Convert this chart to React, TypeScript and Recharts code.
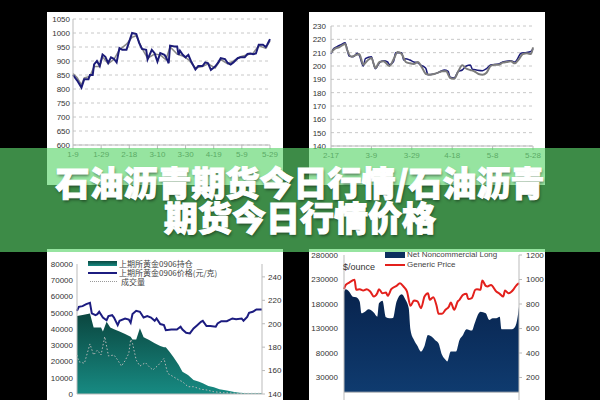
import {
  Area,
  CartesianGrid,
  ComposedChart,
  Line,
  ReferenceLine,
  XAxis,
  YAxis,
} from "recharts";

// Top-left: daily price, Jan 9 .. May 29 (x = days since Jan 9)
const tlTickDays = [0, 20, 40, 60, 80, 100, 120, 140];
const tlTickLabels = ["1-9", "1-29", "2-18", "3-10", "3-30", "4-19", "5-9", "5-29"];
const tlYTicks = [600, 650, 700, 750, 800, 850, 900, 950, 1000, 1050];
const tlDays = [
  0, 3, 6, 8, 11, 12, 14, 15, 17, 19, 21, 23, 25, 27, 29, 31, 33, 35, 38, 40,
  42, 45, 47, 49, 52, 53, 56, 58, 60, 62, 65, 66, 68, 69, 72, 74, 75, 76, 78, 80,
  82, 84, 87, 89, 92, 94, 96, 98, 101, 103, 105, 108, 110, 112, 114, 117, 119, 122, 124, 126,
  128, 130, 132, 135, 137, 138, 140,
];
const tlNavy = [
  850, 830, 805, 835, 835, 850, 850, 888, 900, 882, 923, 915, 893, 913, 908, 895, 946, 940, 940, 970,
  1000, 996, 965, 943, 940, 906, 940, 928, 898, 928, 922, 915, 892, 955, 952, 952, 922, 937, 922, 913,
  922, 898, 870, 882, 882, 895, 892, 868, 880, 893, 910, 907, 893, 887, 895, 910, 913, 913, 925, 927,
  924, 927, 958, 958, 950, 958, 978,
];
const tlGrayDays = [
  0, 3, 6, 8, 12, 15, 19, 21, 25, 29, 33, 38, 42, 45, 49, 53, 58, 62, 66, 69,
  74, 78, 82, 87, 92, 96, 101, 105, 110, 114, 119, 124, 128, 132, 137, 140,
];
const tlGray = [
  855, 840, 815, 840, 845, 880, 880, 915, 890, 905, 940, 960, 985, 990, 945, 910, 925, 922, 905, 950,
  925, 918, 905, 875, 880, 890, 875, 905, 890, 900, 915, 922, 928, 955, 945, 972,
];

// Top-right: Feb 17 .. May 28 (x = days since Feb 17)
const trTickDays = [0, 20, 40, 60, 80, 100];
const trTickLabels = ["2-17", "3-9", "3-29", "4-18", "5-8", "5-28"];
const trYTicks = [140, 150, 160, 170, 180, 190, 200, 210, 220, 230];
const trDays = [
  0, 1, 3, 5, 7, 8, 9, 11, 13, 14, 16, 17, 20, 21, 22, 24, 26, 28, 29, 31,
  32, 35, 36, 37, 39, 41, 43, 44, 46, 47, 48, 51, 53, 56, 58, 59, 61, 63, 65, 67,
  69, 70, 72, 75, 77, 79, 83, 85, 89, 91, 92, 94, 96, 99, 100,
];
const trNavy = [
  209, 212.5, 214.5, 216, 217.5, 212.5, 207.5, 207, 209.5, 208, 200, 205.5, 207, 202, 198, 202.5, 204, 203, 201, 203.5,
  210, 210, 204.5, 205.5, 204.5, 203, 202.5, 201, 199.5, 198, 193.5, 194, 195, 197, 196, 191.5, 191, 196, 197, 200,
  200.7, 197.5, 197, 196.5, 198, 200.7, 201.5, 203, 204, 203, 204.5, 209.5, 210, 211, 213,
];
const trGrayDays = [
  0, 2, 4, 7, 8, 10, 12, 14, 16, 18, 20, 22, 24, 26, 28, 29, 31, 33, 35, 37,
  39, 41, 43, 45, 47, 49, 51, 53, 55, 57, 59, 61, 63, 65, 67, 69, 71, 73, 75, 77,
  79, 81, 83, 85, 87, 89, 91, 93, 95, 97, 99, 100,
];
const trGray = [
  210, 213, 214, 216.5, 212, 207, 208, 209, 201, 204, 206, 198.5, 203, 203.5, 201, 200, 205, 210.5, 209, 203,
  202, 201.5, 203, 199, 194, 193.5, 194, 195, 196, 196, 191, 190.5, 196, 200.5, 198, 197, 196, 194, 193.5, 195,
  200, 201, 201, 202.5, 203, 203.5, 202, 205, 209, 209.5, 209, 214,
];

// Bottom-left: SHFE gold 0906 open interest / price / volume
const blLeftTicks = [0, 10000, 20000, 30000, 40000, 50000, 60000, 70000, 80000];
const blRightTicks = [140, 160, 180, 200, 220, 240];
const blHoldDays = [
  0, 3, 7, 9, 11, 13, 14, 16, 18, 20, 23, 26, 29, 30, 32, 34, 36, 39, 42, 45,
  47, 48, 50, 52, 55, 57, 60, 63, 66, 68, 71, 74, 77, 81, 85, 88, 92, 95, 100,
];
const blHold = [
  48000, 48600, 49600, 41000, 41000, 41000, 38400, 44500, 41000, 39800, 38400, 36900, 35300, 33600, 33600, 40400, 34900, 33200, 31200, 29500,
  28700, 28700, 26000, 23000, 17800, 13700, 11700, 8600, 7600, 6600, 4900, 4100, 2900, 2100, 1200, 800, 400, 400, 400,
];
const blPriceDays = [
  0, 1, 3, 5, 7, 8, 10, 11, 12, 14, 16, 17, 19, 20, 22, 23, 26, 28, 29, 30,
  32, 34, 36, 38, 40, 42, 43, 45, 47, 48, 51, 54, 56, 57, 59, 61, 63, 65, 67, 68,
  70, 72, 75, 76, 78, 81, 84, 86, 89, 90, 92, 93, 95, 97, 100,
];
const blPrice = [
  211, 214.4, 215, 216.7, 217.8, 208.8, 207.3, 208.2, 210.2, 205.3, 203, 206.5, 207.3, 205.3, 198.8, 202.5, 204.5, 203.6, 200.8, 208.2,
  211, 210.2, 205.3, 206.5, 205.3, 202.5, 204.5, 199.7, 198.8, 194.5, 195.1, 195.1, 197.4, 195.1, 192.3, 191.7, 196, 198.8, 201.6, 202.5,
  198, 198, 197.4, 200.2, 202.2, 202.2, 204.5, 203.9, 204.5, 202.5, 205.9, 209.3, 210.2, 212.2, 212.2,
];
const blVolDays = [
  0, 1, 4, 7, 9, 11, 13, 15, 17, 20, 22, 24, 26, 28, 29, 30, 32, 34, 37, 39,
  41, 44, 47, 49, 52, 55, 57, 60, 63, 67, 70, 74, 79, 88, 100,
];
const blVol = [
  24000, 19900, 18900, 30800, 24000, 27000, 24000, 35300, 23400, 24000, 20900, 17200, 20500, 25000, 33600, 31200, 20900, 17200, 19300, 16800,
  14800, 17800, 21900, 12700, 10700, 8600, 7600, 4500, 4500, 2900, 2500, 1400, 800, 400, 400,
];

// Bottom-right: COMEX gold net noncommercial long vs generic price
const brLeftTicks = [-20000, 30000, 80000, 130000, 180000, 230000, 280000];
const brRightTicks = [0, 200, 400, 600, 800, 1000, 1200];
const brNetDays = [
  0, 1, 3, 5, 7, 9, 10, 12, 14, 17, 19, 20, 22, 24, 26, 28, 30, 33, 35, 37,
  38, 40, 42, 44, 46, 48, 50, 52, 54, 56, 58, 59, 61, 64, 66, 68, 70, 73, 75, 77,
  78, 81, 83, 85, 87, 89, 90, 93, 96, 98, 99, 100,
];
const brNet = [
  205200, 210000, 205000, 195000, 193600, 184800, 161000, 164400, 169200, 162400, 154200, 181400, 186800, 152900, 150900, 151500, 184800, 199800, 189600, 171200,
  127100, 106700, 94500, 83000, 94500, 116900, 113500, 106700, 100000, 76200, 66000, 62600, 83000, 83000, 106700, 116900, 128500, 125700, 144000, 161000,
  164400, 161000, 147500, 150900, 150900, 154200, 128500, 128500, 128500, 135200, 148800, 174600,
];
const brPriceDays = [
  0, 1, 3, 6, 7, 9, 11, 13, 15, 17, 19, 20, 22, 24, 25, 27, 30, 32, 34, 36,
  38, 40, 42, 44, 46, 48, 49, 51, 53, 54, 56, 58, 60, 61, 63, 65, 66, 68, 70, 71,
  73, 75, 76, 78, 79, 81, 82, 84, 87, 89, 91, 92, 94, 97, 98, 100,
];
const brPrice = [
  921, 956, 975, 997, 916, 921, 910, 921, 902, 861, 888, 921, 888, 894, 867, 921, 948, 970, 943, 902,
  785, 829, 821, 766, 861, 888, 834, 856, 780, 720, 720, 753, 780, 812, 753, 821, 834, 875, 883, 840,
  848, 916, 921, 916, 992, 948, 943, 956, 902, 883, 861, 910, 888, 921, 943, 970,
];

const TITLE_LINES = ["石油沥青期货今日行情/石油沥青", "期货今日行情价格"];

const SANS = "'Liberation Sans', Arial, sans-serif";
const TICK = { fontSize: 8, fill: "#333", fontFamily: SANS };
const TICK_X = { fontSize: 8, fill: "#555", fontFamily: SANS };
const CJK = "'Noto Sans CJK SC', sans-serif";

function pts(days: number[], values: number[]) {
  return days.map((t, i) => ({ t, v: values[i] }));
}

function Panel({
  left,
  top,
  width,
  height,
  children,
}: {
  left: number;
  top: number;
  width: number;
  height: number;
  children: React.ReactNode;
}) {
  return (
    <div
      style={{
        position: "absolute",
        left,
        top,
        width,
        height,
        background: "#fff",
        overflow: "hidden",
      }}
    >
      {children}
    </div>
  );
}

function TopLeft() {
  return (
    <ComposedChart width={236} height={173} margin={{ top: 7, right: 13, bottom: 20, left: 0 }}>
      <CartesianGrid stroke="#c8c8c8" strokeDasharray="3 3" vertical={false} />
      <XAxis
        type="number"
        dataKey="t"
        domain={[0, 140]}
        ticks={tlTickDays}
        interval={0}
        tickFormatter={(v: number) => tlTickLabels[tlTickDays.indexOf(v)]}
        height={20}
        tickSize={4}
        stroke="#bbb"
        tick={TICK_X}
      />
      <YAxis
        type="number"
        domain={[600, 1050]}
        ticks={tlYTicks}
        interval={0}
        width={26}
        tickSize={0}
        tickMargin={3}
        stroke="#bbb"
        tick={TICK}
      />
      <Line data={pts(tlGrayDays, tlGray)} dataKey="v" type="linear" stroke="#8a8a8a" strokeWidth={1.5} dot={false} isAnimationActive={false} />
      <Line data={pts(tlDays, tlNavy)} dataKey="v" type="linear" stroke="#1c1c78" strokeWidth={2} dot={false} isAnimationActive={false} />
    </ComposedChart>
  );
}

function TopRight() {
  return (
    <ComposedChart width={236} height={173} margin={{ top: 14, right: 12, bottom: 19, left: 0 }}>
      <CartesianGrid stroke="#c8c8c8" strokeDasharray="3 3" vertical={false} />
      <XAxis
        type="number"
        dataKey="t"
        domain={[0, 100]}
        ticks={trTickDays}
        interval={0}
        tickFormatter={(v: number) => trTickLabels[trTickDays.indexOf(v)]}
        height={20}
        tickSize={4}
        stroke="#bbb"
        tick={TICK_X}
      />
      <YAxis
        type="number"
        domain={[140, 230]}
        ticks={trYTicks}
        interval={0}
        width={22}
        tickSize={0}
        tickMargin={5}
        stroke="#bbb"
        tick={TICK}
      />
      <Line data={pts(trDays, trNavy)} dataKey="v" type="monotone" stroke="#1c1c78" strokeWidth={1.5} dot={false} isAnimationActive={false} />
      <Line data={pts(trGrayDays, trGray)} dataKey="v" type="monotone" stroke="#7c7c7c" strokeWidth={2} dot={false} isAnimationActive={false} />
    </ComposedChart>
  );
}

function BottomLeft() {
  return (
    <div style={{ position: "relative" }}>
      <ComposedChart width={236} height={160} margin={{ top: 15, right: 0, bottom: 15, left: 0 }}>
        <defs>
          <linearGradient id="blFill" x1="0" y1="0" x2="0" y2="1">
            <stop offset="0%" stopColor="#0b463f" />
            <stop offset="100%" stopColor="#178a82" />
          </linearGradient>
        </defs>
        <XAxis type="number" dataKey="t" domain={[0, 100]} hide />
        <YAxis
          yAxisId="l"
          type="number"
          domain={[0, 80000]}
          ticks={blLeftTicks}
          interval={0}
          width={30}
          tickSize={0}
          tickMargin={4}
          stroke="#bbb"
          tick={TICK}
        />
        <YAxis
          yAxisId="r"
          orientation="right"
          type="number"
          domain={[140, 251]}
          ticks={blRightTicks}
          interval={0}
          width={21}
          tickSize={3}
          tickMargin={3}
          stroke="#bbb"
          tick={TICK}
        />
        <ReferenceLine yAxisId="l" y={0} stroke="#bbb" />
        <Area yAxisId="l" data={pts(blHoldDays, blHold)} dataKey="v" type="linear" stroke="none" fill="url(#blFill)" fillOpacity={1} isAnimationActive={false} />
        <Line yAxisId="l" data={pts(blVolDays, blVol)} dataKey="v" type="linear" stroke="#b8b8b8" strokeWidth={1} strokeDasharray="1.5 2" dot={false} isAnimationActive={false} />
        <Line yAxisId="r" data={pts(blPriceDays, blPrice)} dataKey="v" type="linear" stroke="#1c1c80" strokeWidth={2} dot={false} isAnimationActive={false} />
      </ComposedChart>
      <div style={{ position: "absolute", left: 41, top: 10, fontFamily: CJK, fontSize: 8, color: "#444", lineHeight: "9px" }}>
        <div style={{ display: "flex", alignItems: "center", height: 9 }}>
          <span style={{ width: 29, height: 5, background: "linear-gradient(#0b463f, #178a82)", marginRight: 2 }} />
          上期所黄金0906持仓
        </div>
        <div style={{ display: "flex", alignItems: "center", height: 9 }}>
          <span style={{ width: 29, height: 2, background: "#1c1c80", marginRight: 2 }} />
          上期所黄金0906价格(元/克)
        </div>
        <div style={{ display: "flex", alignItems: "center", height: 9 }}>
          <span style={{ width: 27, borderTop: "1px dotted #999", marginLeft: 2, marginRight: 4 }} />
          成交量
        </div>
      </div>
    </div>
  );
}

function BottomRight() {
  return (
    <div style={{ position: "relative" }}>
      <ComposedChart width={236} height={160} margin={{ top: 6, right: 0, bottom: 7, left: 0 }}>
        <defs>
          <linearGradient id="brFill" x1="0" y1="0" x2="0" y2="1">
            <stop offset="0%" stopColor="#08234d" />
            <stop offset="100%" stopColor="#0f3b6f" />
          </linearGradient>
        </defs>
        <XAxis type="number" dataKey="t" domain={[0, 100]} hide />
        <YAxis
          yAxisId="l"
          type="number"
          domain={[-20000, 280000]}
          ticks={brLeftTicks}
          interval={0}
          width={35}
          tickSize={0}
          tickMargin={6}
          stroke="#bbb"
          tick={TICK}
        />
        <YAxis
          yAxisId="r"
          orientation="right"
          type="number"
          domain={[0, 1200]}
          ticks={brRightTicks}
          interval={0}
          width={26}
          tickSize={3}
          tickMargin={4}
          stroke="#bbb"
          tick={TICK}
        />
        <ReferenceLine yAxisId="l" y={0} stroke="#bbb" />
        <Area yAxisId="l" data={pts(brNetDays, brNet)} dataKey="v" type="monotone" stroke="none" fill="url(#brFill)" fillOpacity={1} isAnimationActive={false} />
        <Line yAxisId="r" data={pts(brPriceDays, brPrice)} dataKey="v" type="monotone" stroke="#e3201c" strokeWidth={2} dot={false} isAnimationActive={false} />
      </ComposedChart>
      <div style={{ position: "absolute", left: 34, top: 13, fontFamily: SANS, fontSize: 9, color: "#333" }}>
        $/ounce
      </div>
      <div style={{ position: "absolute", left: 76, top: 1, fontFamily: SANS, fontSize: 8, color: "#444", lineHeight: "10px" }}>
        <div style={{ display: "flex", alignItems: "center", height: 10 }}>
          <span style={{ width: 20, height: 6, background: "#0c2f5e", marginRight: 2 }} />
          Net Noncommercial Long
        </div>
        <div style={{ display: "flex", alignItems: "center", height: 10 }}>
          <span style={{ width: 20, height: 2, background: "#e3201c", marginRight: 2 }} />
          Generic Price
        </div>
      </div>
    </div>
  );
}

export default function App() {
  return (
    <div
      style={{
        position: "absolute",
        left: 0,
        top: 0,
        width: 600,
        height: 400,
        background: "#000",
        overflow: "hidden",
      }}
    >
      <Panel left={47} top={12} width={236} height={173}>
        <TopLeft />
      </Panel>
      <Panel left={309} top={12} width={236} height={173}>
        <TopRight />
      </Panel>
      <Panel left={47} top={249} width={236} height={151}>
        <BottomLeft />
      </Panel>
      <Panel left={309} top={249} width={236} height={151}>
        <BottomRight />
      </Panel>
      <div
        style={{
          position: "absolute",
          left: 0,
          top: 148,
          width: 600,
          height: 104,
          background: "rgba(94, 214, 109, 0.65)",
        }}
      />
      {TITLE_LINES.map((line, i) => (
        <div
          key={line}
          style={{
            position: "absolute",
            left: 0,
            top: 164 + i * 35,
            width: 600,
            textAlign: "center",
            fontFamily: CJK,
            fontWeight: 900,
            fontSize: 34,
            lineHeight: "36px",
            color: "#fff",
            WebkitTextStroke: "1px #fff",
            textShadow: "1px 2px 3px rgba(0,0,0,0.45)",
          }}
        >
          {line}
        </div>
      ))}
    </div>
  );
}
